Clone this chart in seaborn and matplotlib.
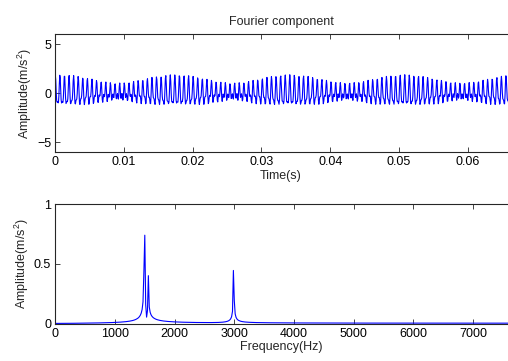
import numpy as np
import pandas as pd
import matplotlib
matplotlib.use("Agg")
import matplotlib.pyplot as plt
import seaborn as sns

# ---- data ----
fs = 15360.0                      # sampling rate (Hz)
n_samples = 1024                  # record length
comp_freqs = [1494.75, 1554.75, 2989.5]    # Fourier components (Hz)
comp_amps = [0.95, 0.42, 0.52]             # component amplitudes (m/s^2)
comp_phases = [0.0, -0.30, 0.0]            # component phases (rad)

title_text = "Fourier component"
time_label = "Time(s)"
freq_label = "Frequency(Hz)"
amp_label = "Amplitude(m/s$^2$)"
time_ticks = [0, 0.01, 0.02, 0.03, 0.04, 0.05, 0.06]
time_ticklabels = ["0", "0.01", "0.02", "0.03", "0.04", "0.05", "0.06"]
amp_ticks_top = [-5, 0, 5]
freq_ticks = [0, 1000, 2000, 3000, 4000, 5000, 6000, 7000]
amp_ticks_bot = [0, 0.5, 1]
amp_ticklabels_bot = ["0", "0.5", "1"]

# ---- build series ----
t = np.arange(n_samples) / fs
sig = np.zeros_like(t)
for f, a, p in zip(comp_freqs, comp_amps, comp_phases):
    sig += a * np.cos(2 * np.pi * f * t + p)
df_time = pd.DataFrame({"t": t, "x": sig})

spec = 2 * np.abs(np.fft.rfft(sig)) / n_samples
freqs = np.fft.rfftfreq(n_samples, 1 / fs)
df_freq = pd.DataFrame({"f": freqs, "A": spec})

# ---- plotting ----
sns.set_theme(style="white")
plt.rcParams["font.family"] = ["Liberation Sans", "DejaVu Sans"]
plt.rcParams["font.size"] = 9
plt.rcParams["mathtext.fontset"] = "custom"
plt.rcParams["mathtext.rm"] = "Liberation Sans"
plt.rcParams["mathtext.it"] = "Liberation Sans"

fig = plt.figure(figsize=(5.08, 3.61), dpi=100)
W, H = 508.0, 361.0
x0, x1 = 55.3, 513.5
xc = (281 - x0) / (x1 - x0)
ax1 = fig.add_axes([x0 / W, 1 - 152.3 / H, (x1 - x0) / W, (152.3 - 34.3) / H])
ax2 = fig.add_axes([x0 / W, 1 - 323.5 / H, (x1 - x0) / W, (323.5 - 204.3) / H])

blue = "#0000ff"
sns.lineplot(data=df_time, x="t", y="x", ax=ax1, color=blue, linewidth=0.8)
sns.lineplot(data=df_freq, x="f", y="A", ax=ax2, color=blue, linewidth=0.8)

ax1.set_xlim(0, n_samples / fs)
ax1.set_ylim(-6, 6)
ax1.set_xticks(time_ticks)
ax1.set_xticklabels(time_ticklabels)
ax1.set_yticks(amp_ticks_top)
ax1.set_xlabel(time_label, fontsize=9, labelpad=1)
ax1.xaxis.label.set_x(xc)
ax1.set_ylabel(amp_label, fontsize=9, labelpad=2)
ax1.set_title(title_text, fontsize=9, pad=7, x=xc)

ax2.set_xlim(0, fs / 2)
ax2.set_ylim(0, 1)
ax2.set_xticks(freq_ticks)
ax2.set_yticks(amp_ticks_bot)
ax2.set_yticklabels(amp_ticklabels_bot)
ax2.set_xlabel(freq_label, fontsize=9, labelpad=1)
ax2.xaxis.label.set_x(xc)
ax2.set_ylabel(amp_label, fontsize=9, labelpad=2)

for ax in (ax1, ax2):
    ax.tick_params(direction="in", length=3.3, width=0.6, colors="#262626",
                   labelsize=9, top=True, right=True, bottom=True, left=True,
                   pad=3, labelcolor="black")
    for s in ax.spines.values():
        s.set_color("#262626")
        s.set_linewidth(0.8)
        s.set_visible(True)

fig.savefig("out.png", dpi=100)
